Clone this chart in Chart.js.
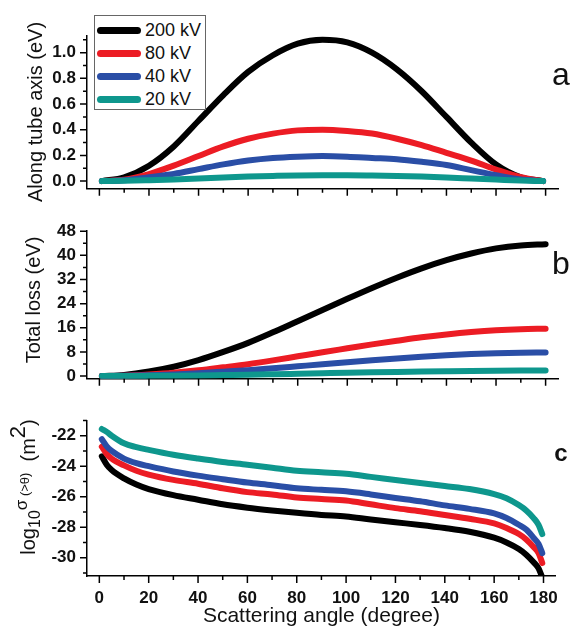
<!DOCTYPE html>
<html>
<head>
<meta charset="utf-8">
<script src="https://cdn.jsdelivr.net/npm/chart.js@4.4.0/dist/chart.umd.min.js"></script>
<style>
  body { margin: 0; background: #fff; width: 570px; height: 629px; position: relative; overflow: hidden; font-family: "Liberation Sans", Arial, sans-serif; }
  canvas { position: absolute; left: 0; }
  #legend { position: absolute; left: 94px; top: 15px; width: 112px; height: 95px; border: 1px solid #666; box-sizing: border-box; background: #fff; z-index: 2; }
  .row { position: absolute; left: 2px; height: 20px; font-size: 18px; line-height: 20px; color: #111; white-space: nowrap; }
  .row span.ln { display: inline-block; width: 44px; height: 7px; border-radius: 4px; vertical-align: middle; margin-right: 4px; position: relative; top: -1px; }
</style>
</head>
<body>
<canvas id="chartA" width="570" height="210" style="top:0"></canvas>
<canvas id="chartB" width="570" height="190" style="top:210px"></canvas>
<canvas id="chartC" width="570" height="229" style="top:400px"></canvas>
<div id="legend"></div>
<script>
// series
const seriesLabels = ['200 kV', '80 kV', '40 kV', '20 kV'];
const seriesColors = ['#000000', '#ec1c24', '#2a4ea6', '#0e978d'];

// panel a : energy along tube axis (eV)
const angleA = [1, 10, 20, 30, 40, 50, 60, 70, 80, 90, 100, 110, 120, 130, 140, 150, 160, 170, 179];
const axis200 = [0, 0.03, 0.12, 0.27, 0.47, 0.67, 0.85, 0.98, 1.07, 1.10, 1.08, 1.00, 0.87, 0.70, 0.50, 0.30, 0.13, 0.03, 0];
const axis80 = [0, 0.01, 0.055, 0.12, 0.195, 0.27, 0.33, 0.37, 0.395, 0.40, 0.39, 0.37, 0.33, 0.28, 0.22, 0.16, 0.09, 0.03, 0];
const axis40 = [0, 0.006, 0.03, 0.056, 0.093, 0.13, 0.16, 0.18, 0.19, 0.195, 0.19, 0.18, 0.17, 0.15, 0.125, 0.085, 0.045, 0.012, 0];
const axis20 = [0, 0.002, 0.007, 0.013, 0.02, 0.028, 0.035, 0.04, 0.044, 0.045, 0.045, 0.043, 0.04, 0.035, 0.028, 0.02, 0.012, 0.004, 0];

// panel b : total loss (eV)
const angleB = [1, 10, 20, 30, 40, 50, 60, 70, 80, 90, 100, 110, 120, 130, 140, 150, 160, 170, 180];
const loss200 = [0, 0.4, 1.5, 3.1, 5.3, 8.0, 11.0, 14.5, 18.2, 21.9, 25.6, 29.2, 32.6, 35.7, 38.4, 40.6, 42.3, 43.3, 43.7];
const loss80 = [0, 0.15, 0.55, 1.1, 1.9, 2.9, 3.95, 5.2, 6.55, 7.9, 9.2, 10.5, 11.7, 12.85, 13.8, 14.6, 15.2, 15.55, 15.7];
const loss40 = [0, 0.07, 0.27, 0.55, 0.95, 1.45, 1.97, 2.6, 3.25, 3.9, 4.6, 5.25, 5.85, 6.4, 6.9, 7.3, 7.6, 7.75, 7.8];
const loss20 = [0, 0.02, 0.07, 0.13, 0.22, 0.34, 0.46, 0.61, 0.77, 0.93, 1.09, 1.24, 1.38, 1.51, 1.62, 1.72, 1.79, 1.83, 1.85];

// panel c : log10 sigma(>theta) (m^2)
const angleC = [1, 3, 5, 10, 15, 20, 30, 40, 50, 60, 70, 80, 90, 100, 110, 120, 130, 140, 150, 160, 165, 170, 173, 176, 178, 179.5];
const sigma200 = [-23.35, -23.9, -24.25, -24.8, -25.2, -25.5, -25.9, -26.2, -26.5, -26.72, -26.9, -27.06, -27.2, -27.3, -27.5, -27.68, -27.85, -28.05, -28.3, -28.69, -29.0, -29.43, -29.8, -30.3, -30.7, -31.3];
const sigma80 = [-22.72, -23.2, -23.5, -23.95, -24.3, -24.55, -24.9, -25.15, -25.45, -25.7, -25.85, -26.05, -26.15, -26.25, -26.5, -26.75, -26.95, -27.2, -27.45, -27.75, -28.05, -28.45, -28.8, -29.3, -29.7, -30.35];
const sigma40 = [-22.23, -22.7, -23.0, -23.5, -23.8, -24.0, -24.35, -24.62, -24.85, -25.07, -25.25, -25.45, -25.55, -25.65, -25.85, -26.08, -26.3, -26.57, -26.8, -27.1, -27.4, -27.84, -28.15, -28.7, -29.1, -29.7];
const sigma20 = [-21.56, -21.75, -22.0, -22.5, -22.75, -22.93, -23.25, -23.5, -23.72, -23.9, -24.1, -24.3, -24.4, -24.5, -24.7, -24.9, -25.1, -25.3, -25.5, -25.83, -26.1, -26.55, -26.9, -27.4, -27.85, -28.45];

// ticks
const xMajor = [0, 20, 40, 60, 80, 100, 120, 140, 160, 180];
const xMinor = [10, 30, 50, 70, 90, 110, 130, 150, 170];
const yMajorA = [0, 0.2, 0.4, 0.6, 0.8, 1.0];
const yMinorA = [0.1, 0.3, 0.5, 0.7, 0.9, 1.1];
const yMajorB = [0, 8, 16, 24, 32, 40, 48];
const yMinorB = [4, 12, 20, 28, 36, 44];
const yMajorC = [-30, -28, -26, -24, -22];
const yMinorC = [-31, -29, -27, -25, -23, -21];

const FONT = '"Liberation Sans", Arial, sans-serif';

// legend
const legend = document.getElementById('legend');
seriesLabels.forEach((lab, i) => {
  const row = document.createElement('div');
  row.className = 'row';
  row.style.top = (4 + i * 23) + 'px';
  row.innerHTML = `<span class="ln" style="background:${seriesColors[i]}"></span>${lab}`;
  legend.appendChild(row);
});

// tick marks, panel letters and y titles
const decor = {
  id: 'decor',
  afterDraw(chart, args, opts) {
    const { ctx, chartArea, scales: { x, y } } = chart;
    ctx.save();
    ctx.strokeStyle = '#000';
    ctx.lineWidth = 1.5;
    ctx.beginPath();
    xMajor.forEach(v => { const p = x.getPixelForValue(v); ctx.moveTo(p, chartArea.bottom); ctx.lineTo(p, chartArea.bottom + 7); });
    xMinor.forEach(v => { const p = x.getPixelForValue(v); ctx.moveTo(p, chartArea.bottom); ctx.lineTo(p, chartArea.bottom + 4); });
    opts.yMajor.forEach(v => { const p = y.getPixelForValue(v); ctx.moveTo(chartArea.left, p); ctx.lineTo(chartArea.left - 7, p); });
    opts.yMinor.forEach(v => { const p = y.getPixelForValue(v); ctx.moveTo(chartArea.left, p); ctx.lineTo(chartArea.left - 4, p); });
    ctx.stroke();

    ctx.fillStyle = '#111';
    ctx.textAlign = 'center';
    ctx.textBaseline = 'middle';
    ctx.font = opts.letterFont;
    ctx.fillText(opts.letter, 561, opts.letterY);

    // y title
    ctx.translate(opts.titleX, opts.titleY);
    ctx.rotate(-Math.PI / 2);
    if (typeof opts.title === 'string') {
      ctx.font = '20px ' + FONT;
      ctx.fillText(opts.title, 0, 0);
    } else {
      ctx.textAlign = 'left';
      ctx.textBaseline = 'alphabetic';
      let total = 0;
      opts.title.forEach(p => { ctx.font = p.size + 'px ' + FONT; p.w = ctx.measureText(p.t).width; total += p.w; });
      let cx = -total / 2;
      opts.title.forEach(p => { ctx.font = p.size + 'px ' + FONT; ctx.fillText(p.t, cx, 7 + p.dy); cx += p.w; });
    }
    ctx.restore();
  }
};

function makePanel(id, angles, values, yMin, yMax, yMajor, fmt, xHeight, padTop, showX, decorOpts) {
  const datasets = values.map((vals, i) => ({
    label: seriesLabels[i],
    data: angles.map((a, k) => ({ x: a, y: vals[k] })),
    borderColor: seriesColors[i],
    backgroundColor: seriesColors[i],
    borderWidth: 6,
    borderCapStyle: 'round',
    borderJoinStyle: 'round',
    pointRadius: 0,
    cubicInterpolationMode: 'monotone',
    fill: false
  })).reverse();

  return new Chart(document.getElementById(id), {
    type: 'line',
    data: { datasets },
    options: {
      responsive: false,
      animation: false,
      layout: { padding: { top: padTop, right: 12, left: 0, bottom: 0 } },
      plugins: { legend: { display: false }, tooltip: { enabled: false }, decor: decorOpts },
      scales: {
        x: {
          type: 'linear', min: -5, max: 185,
          afterBuildTicks: s => { s.ticks = xMajor.map(v => ({ value: v })); },
          afterFit: s => { s.height = xHeight; },
          grid: { display: true, drawOnChartArea: false, drawTicks: false },
          border: { display: true, color: '#000', width: 1.5 },
          ticks: { display: showX, padding: 12, maxRotation: 0, color: '#111', font: { family: FONT, size: 17, weight: 'bold' } },
          title: { display: showX, text: 'Scattering angle (degree)', color: '#111', font: { family: FONT, size: 21 }, padding: { top: 0, bottom: 0 } }
        },
        y: {
          type: 'linear', min: yMin, max: yMax,
          afterBuildTicks: s => { s.ticks = yMajor.map(v => ({ value: v })); },
          afterFit: s => { s.width = 87; },
          grid: { display: true, drawOnChartArea: false, drawTicks: false },
          border: { display: true, color: '#000', width: 1.5 },
          ticks: { padding: 11, color: '#111', font: { family: FONT, size: 17, weight: 'bold' }, callback: fmt }
        }
      }
    },
    plugins: [decor]
  });
}

makePanel('chartA', angleA, [axis200, axis80, axis40, axis20], -0.06, 1.13, yMajorA, v => v.toFixed(1), 11, 36, false,
  { yMajor: yMajorA, yMinor: yMinorA, letter: 'a', letterY: 76, letterFont: '32px ' + FONT, title: 'Along tube axis (eV)', titleX: 36, titleY: 112 });

makePanel('chartB', angleB, [loss200, loss80, loss40, loss20], -0.9, 48, yMajorB, v => String(v), 12, 15, false,
  { yMajor: yMajorB, yMinor: yMinorB, letter: 'b', letterY: 55, letterFont: '32px ' + FONT, title: 'Total loss (eV)', titleX: 34, titleY: 90 });

makePanel('chartC', angleC, [sigma200, sigma80, sigma40, sigma20], -31.2, -21.05, yMajorC, v => String(v), 53, 13, true,
  { yMajor: yMajorC, yMinor: yMinorC, letter: 'c', letterY: 54, letterFont: 'bold 24px ' + FONT,
    title: [
      { t: 'log', size: 20, dy: 0 },
      { t: '10', size: 16, dy: 5 },
      { t: 'σ', size: 17, dy: -8 },
      { t: ' (>θ)', size: 13, dy: -6 },
      { t: '  (m', size: 20, dy: 0 },
      { t: '2', size: 22, dy: -10 },
      { t: ')', size: 20, dy: 0 }
    ], titleX: 28, titleY: 87 });
</script>
</body>
</html>
